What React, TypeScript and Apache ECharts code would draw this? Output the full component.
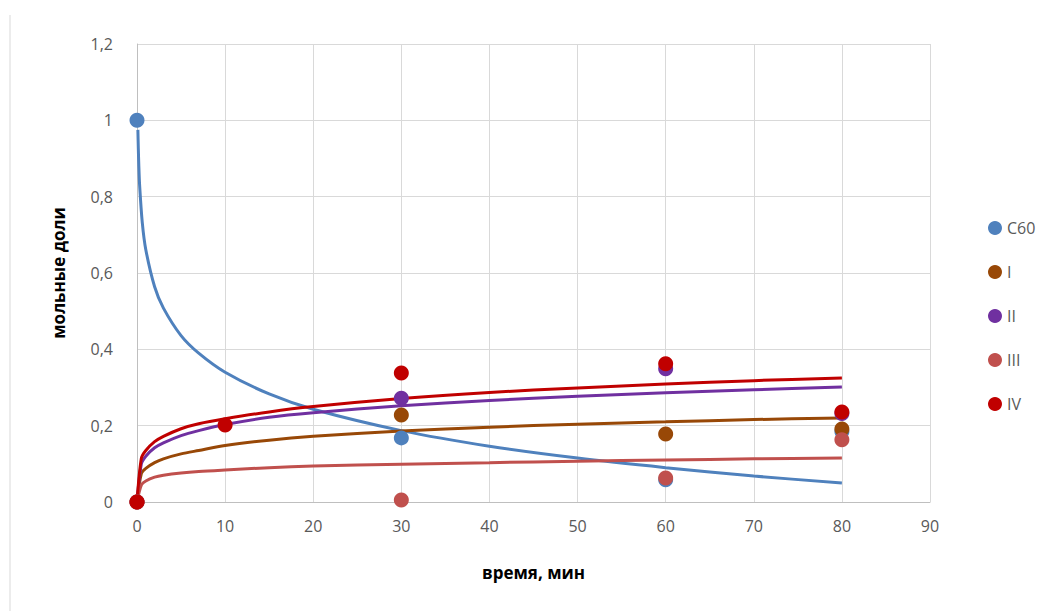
import React, { useEffect, useRef } from "react";
import * as echarts from "echarts";

const seriesNames = ["C60", "I", "II", "III", "IV"];
const colors = ["#4F81BD", "#984807", "#7030A0", "#C0504D", "#C00000"];

const xTicks = [0, 10, 20, 30, 40, 50, 60, 70, 80, 90];

// measured points
const ptsC60 = [[0, 1], [30, 0.168], [60, 0.058], [80, 0.185]];
const ptsI = [[0, 0], [30, 0.228], [60, 0.178], [80, 0.191]];
const ptsII = [[0, 0], [30, 0.272], [60, 0.349], [80, 0.232]];
const ptsIII = [[0, 0], [30, 0.005], [60, 0.063], [80, 0.163]];
const ptsIV = [[0, 0], [10, 0.202], [30, 0.338], [60, 0.362], [80, 0.236]];

// trend lines
const trendXC60 = [0.1, 0.15, 0.2, 0.3, 0.6, 1, 2, 3, 5, 7, 10, 15, 20, 30, 40, 50, 60, 70, 80];
const trendC60 = [0.975, 0.926, 0.886, 0.829, 0.732, 0.661, 0.564, 0.508, 0.436, 0.39, 0.34, 0.283, 0.243, 0.187, 0.146, 0.115, 0.09, 0.068, 0.05];
const trendX = [0, 0.5, 1, 2, 3, 5, 7, 10, 15, 20, 30, 40, 50, 60, 70, 80];
const trendI = [0, 0.075, 0.088, 0.103, 0.113, 0.126, 0.135, 0.148, 0.162, 0.172, 0.186, 0.196, 0.204, 0.21, 0.216, 0.22];
const trendII = [0, 0.1, 0.12, 0.142, 0.155, 0.174, 0.187, 0.203, 0.222, 0.234, 0.252, 0.266, 0.277, 0.286, 0.294, 0.301];
const trendIII = [0, 0.045, 0.055, 0.065, 0.07, 0.076, 0.08, 0.084, 0.09, 0.094, 0.099, 0.103, 0.107, 0.11, 0.113, 0.115];
const trendIV = [0, 0.115, 0.135, 0.158, 0.172, 0.192, 0.205, 0.218, 0.236, 0.25, 0.271, 0.287, 0.299, 0.309, 0.318, 0.325];

const FONT = "'Open Sans', sans-serif";

export default function App() {
  const ref = useRef<HTMLDivElement>(null);
  useEffect(() => {
    if (!ref.current) return;
    const chart = echarts.init(ref.current, undefined, { renderer: "svg" });
    const points = [ptsC60, ptsI, ptsII, ptsIII, ptsIV];
    const trends = [
      trendXC60.map((x, i) => [x, trendC60[i]]),
      trendX.map((x, i) => [x, trendI[i]]),
      trendX.map((x, i) => [x, trendII[i]]),
      trendX.map((x, i) => [x, trendIII[i]]),
      trendX.map((x, i) => [x, trendIV[i]]),
    ];
    const series: any[] = [];
    seriesNames.forEach((n, i) => {
      series.push({
        name: n,
        type: "scatter",
        data: points[i],
        symbol: "circle",
        symbolSize: 15,
        itemStyle: { color: colors[i], opacity: 1 },
        z: 3,
      });
    });
    seriesNames.forEach((n, i) => {
      series.push({
        name: n + " trend",
        type: "line",
        data: trends[i],
        showSymbol: false,
        smooth: 0.3,
        lineStyle: { color: colors[i], width: 3 },
        itemStyle: { color: colors[i] },
        z: 2,
      });
    });
    chart.setOption({
      animation: false,
      textStyle: { fontFamily: FONT },
      grid: { left: 137, right: 123, top: 44, bottom: 109 },
      xAxis: {
        type: "value",
        min: 0,
        max: 90,
        interval: 10,
        name: "время, мин",
        nameLocation: "middle",
        nameGap: 62,
        nameTextStyle: { fontSize: 17, fontWeight: "bold", color: "#000", fontFamily: FONT },
        axisLine: { lineStyle: { color: "#BFBFBF", width: 1 } },
        axisTick: { show: false },
        axisLabel: { fontSize: 16, color: "#595959", margin: 16, fontFamily: FONT, formatter: (v: number) => (xTicks.includes(v) ? String(v) : "") },
        splitLine: { show: true, lineStyle: { color: "#D9D9D9", width: 1 } },
      },
      yAxis: {
        type: "value",
        min: 0,
        max: 1.2,
        interval: 0.2,
        name: "мольные доли",
        nameLocation: "middle",
        nameGap: 70,
        nameTextStyle: { fontSize: 17, fontWeight: "bold", color: "#000", fontFamily: FONT },
        axisLine: { show: true, lineStyle: { color: "#BFBFBF", width: 1 } },
        axisTick: { show: false },
        axisLabel: {
          fontSize: 16,
          color: "#595959",
          margin: 24,
          fontFamily: FONT,
          formatter: (v: number) => String(+v.toFixed(1)).replace(".", ","),
        },
        splitLine: { show: true, lineStyle: { color: "#D9D9D9", width: 1 } },
      },
      legend: {
        data: seriesNames.map((n) => ({ name: n, icon: "circle" })),
        orient: "vertical",
        left: 983,
        top: 215,
        itemWidth: 14,
        itemHeight: 14,
        itemGap: 28,
        textStyle: { fontSize: 16, color: "#595959", fontFamily: FONT },
      },
      graphic: [
        {
          type: "line",
          shape: { x1: 10, y1: 15, x2: 10, y2: 611 },
          style: { stroke: "#D9D9D9", lineWidth: 1 },
        },
      ],
      series,
    });
    return () => chart.dispose();
  }, []);
  return <div ref={ref} style={{ width: 1053, height: 611, position: "absolute", left: 0, top: 0 }} />;
}
